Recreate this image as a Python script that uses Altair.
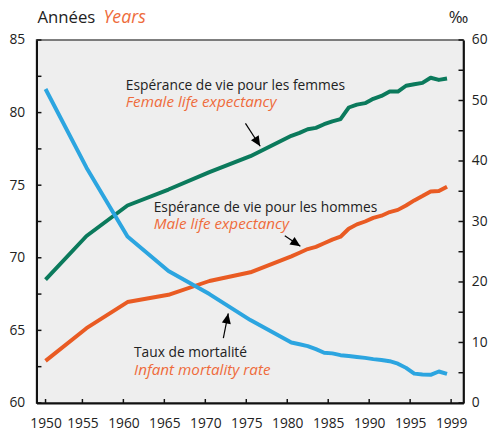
import altair as alt
import pandas as pd

# ---------------- data ----------------
years = [1950, 1955, 1960, 1965, 1970, 1975,
         1980, 1981, 1982, 1983, 1984, 1985, 1986, 1987, 1988, 1989,
         1990, 1991, 1992, 1993, 1994, 1995, 1996, 1997, 1998, 1999]
female = [68.5, 71.5, 73.6, 74.7, 75.9, 77.0,
          78.4, 78.6, 78.85, 78.95, 79.2, 79.4, 79.55, 80.35, 80.55, 80.65,
          80.95, 81.15, 81.45, 81.45, 81.85, 81.95, 82.05, 82.4, 82.25, 82.35]
male = [62.9, 65.15, 66.95, 67.45, 68.4, 69.0,
        70.1, 70.35, 70.6, 70.75, 71.0, 71.25, 71.45, 72.0, 72.3, 72.5,
        72.75, 72.9, 73.15, 73.3, 73.6, 73.95, 74.25, 74.57, 74.6, 74.9]
mortality = [51.9, 38.9, 27.5, 21.8, 18.0, 13.7,
             10.0, 9.7, 9.4, 8.9, 8.3, 8.2, 7.9, 7.75, 7.6, 7.45,
             7.25, 7.1, 6.9, 6.5, 5.8, 4.85, 4.7, 4.65, 5.2, 4.8]

x_tick_values = [1950, 1954.5, 1959.5, 1964.5, 1969.5, 1974.5, 1979.5,
                 1984.5, 1989.5, 1994.5, 1999.5]
left_label_values = [60, 65, 70, 75, 80, 85]
left_tick_values = [60, 62.5, 65, 67.5, 70, 72.5, 75, 77.5, 80, 82.5, 85]
right_label_values = [0, 10, 20, 30, 40, 50, 60]
right_tick_values = [0, 5, 10, 15, 20, 25, 30, 35, 40, 45, 50, 55, 60]

# annotations (in years / left-axis units)
label_texts_fr = ["Espérance de vie pour les femmes",
                  "Espérance de vie pour les hommes",
                  "Taux de mortalité"]
label_texts_en = ["Female life expectancy",
                  "Male life expectancy",
                  "Infant mortality rate"]
label_x = [1959.8, 1963.2, 1960.8]
label_y_fr = [81.85, 73.4, 63.45]
label_y_en = [80.7, 72.35, 62.25]

arrow_x = [1974.4, 1979.2, 1971.7]
arrow_y = [79.26, 71.52, 64.47]
arrow_x2 = [1976.2, 1981.1, 1972.3]
arrow_y2 = [77.68, 70.79, 66.17]
arrow_angle = [148, 124, 11]

# ---------------- styling ----------------
FONT = "Open Sans"
GREEN = "#0B7A5C"
ORANGE = "#E95B23"
ORANGE_TXT = "#EE6B3B"
BLUE = "#2CA5E0"
INK = "#222222"

W, H = 434, 369

xs = alt.Scale(domain=[1948.9, 2001.0], nice=False, zero=False)
ys_left = alt.Scale(domain=[60, 85], nice=False, zero=False)
ys_right = alt.Scale(domain=[0, 60], nice=False, zero=False)

x_axis = alt.Axis(values=x_tick_values,
                  labelExpr="datum.value < 1951 ? '1950' : (datum.value > 1999 ? '1999' : toString(datum.value + 0.5))",
                  ticks=False, tickSize=0, grid=False, title=None,
                  domainColor="#111111", domainWidth=2,
                  labelPadding=14, labelFont=FONT, labelFontSize=14,
                  labelColor=INK, labelFlush=False, labelOverlap=False)
left_axis = alt.Axis(values=left_label_values, orient="left",
                     ticks=False, tickSize=0, grid=False, title=None,
                     domainColor="#111111", domainWidth=2,
                     labelPadding=12, labelFont=FONT, labelFontSize=14,
                     labelColor=INK, labelFlush=False)
right_axis = alt.Axis(values=right_label_values, orient="right",
                      ticks=False, tickSize=0, grid=False, title=None,
                      domainColor="#111111", domainWidth=2,
                      labelPadding=8, labelFont=FONT, labelFontSize=14,
                      labelColor=INK, labelFlush=False)

def X(field):
    return alt.X(field, type="quantitative", scale=xs, axis=x_axis)

def YL(field):
    return alt.Y(field, type="quantitative", scale=ys_left, axis=left_axis)

def YR(field):
    return alt.Y(field, type="quantitative", scale=ys_right, axis=right_axis)

# ---------------- frames ----------------
life_df = pd.DataFrame({
    "year": years * 2,
    "value": female + male,
    "series": ["Femmes"] * len(years) + ["Hommes"] * len(years),
})
mort_df = pd.DataFrame({"year": years, "mort": mortality})
txt_fr = pd.DataFrame({"x": label_x, "y": label_y_fr, "t": label_texts_fr})
txt_en = pd.DataFrame({"x": label_x, "y": label_y_en, "t": label_texts_en})
arrows = pd.DataFrame({"x": arrow_x, "y": arrow_y, "x2": arrow_x2,
                       "y2": arrow_y2, "ang": arrow_angle})
lt_df = pd.DataFrame({"v": left_tick_values})
rt_df = pd.DataFrame({"v": right_tick_values})
xt_df = pd.DataFrame({"t": x_tick_values})

# ---------------- left group ----------------
life = alt.Chart(life_df).mark_line(strokeWidth=4, strokeJoin="round").encode(
    x=X("year"), y=YL("value"),
    color=alt.Color("series:N",
                    scale=alt.Scale(domain=["Femmes", "Hommes"], range=[GREEN, ORANGE]),
                    legend=None),
)

fr_text = alt.Chart(txt_fr).mark_text(align="left", baseline="middle", font=FONT,
                                      fontSize=14, color=INK).encode(
    x=X("x"), y=YL("y"), text="t:N")
en_text = alt.Chart(txt_en).mark_text(align="left", baseline="middle", font=FONT,
                                      fontSize=15.5, fontStyle="italic",
                                      color=ORANGE_TXT).encode(
    x=X("x"), y=YL("y"), text="t:N")

arrow_lines = alt.Chart(arrows).mark_rule(color="#000000", strokeWidth=1.2).encode(
    x=X("x"), y=YL("y"), x2="x2:Q", y2="y2:Q")
arrow_heads = alt.Chart(arrows).mark_point(
    shape="M0,0 L-0.45,1 L0.45,1 Z", filled=True, opacity=1,
    color="#000000", size=420).encode(
    x=X("x2"), y=YL("y2"), angle=alt.Angle("ang:Q", scale=None))

left_ticks = alt.Chart(lt_df).mark_rule(color="#111111", strokeWidth=1.5).encode(
    y=YL("v"), x=alt.value(0), x2=alt.value(5))
bottom_ticks = alt.Chart(xt_df).mark_rule(color="#111111", strokeWidth=1.5).encode(
    x=X("t"), y=alt.value(H), y2=alt.value(H - 4))

title_fr = alt.Chart(pd.DataFrame({"t": ["Années"]})).mark_text(
    align="left", baseline="middle", font=FONT, fontSize=17, color=INK).encode(
    x=alt.value(1), y=alt.value(-22), text="t:N")
title_en = alt.Chart(pd.DataFrame({"t": ["Years"]})).mark_text(
    align="left", baseline="middle", font=FONT, fontSize=18, fontStyle="italic",
    color=ORANGE_TXT).encode(
    x=alt.value(68), y=alt.value(-22), text="t:N")
title_r = alt.Chart(pd.DataFrame({"t": ["‰"]})).mark_text(
    align="left", baseline="middle", font=FONT, fontSize=17, color=INK).encode(
    x=alt.value(419), y=alt.value(-22), text="t:N")

left_group = alt.layer(life, left_ticks, bottom_ticks, fr_text, en_text,
                       arrow_lines, arrow_heads, title_fr, title_en, title_r)

# ---------------- right group ----------------
mort = alt.Chart(mort_df).mark_line(strokeWidth=4, strokeJoin="round", color=BLUE).encode(
    x=X("year"), y=YR("mort"))
right_ticks = alt.Chart(rt_df).mark_rule(color="#111111", strokeWidth=1.5).encode(
    y=YR("v"), x=alt.value(W - 5), x2=alt.value(W))

right_group = alt.layer(mort, right_ticks)

chart = alt.layer(left_group, right_group).resolve_scale(y="independent").properties(
    width=W, height=H,
    autosize=alt.AutoSizeParams(type="none"),
    padding={"left": 29, "top": 29, "right": 25, "bottom": 27},
    background="#ffffff",
).configure_view(fill="#eeeeee", stroke="#555555", strokeWidth=1.5)

chart.save("out.html", embed_options={"renderer": "svg", "actions": False})
